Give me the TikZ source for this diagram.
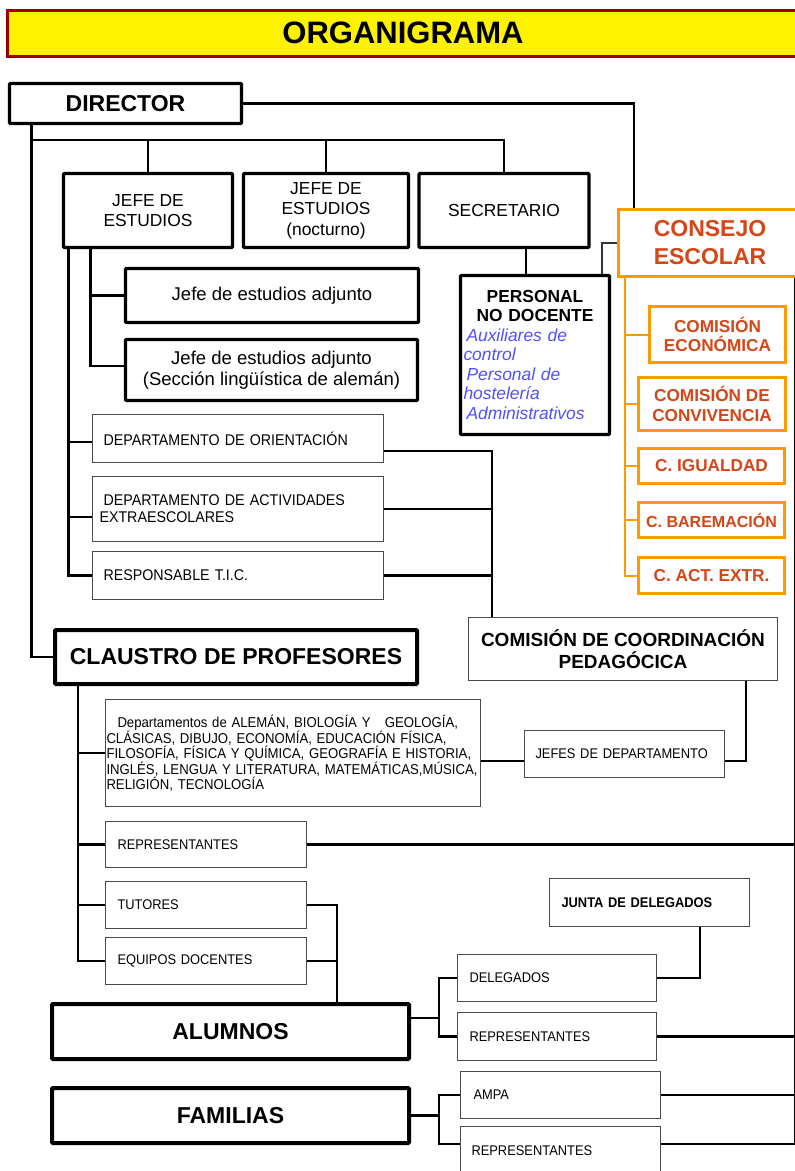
\documentclass[tikz,border=0pt]{standalone}
\usepackage{fontspec}
\setmainfont{Liberation Sans}
\newfontfamily\narrowfont[FakeStretch=0.92,WordSpace=0.85]{Liberation Sans}
\usetikzlibrary{calc}
\definecolor{titlered}{HTML}{990000}
\definecolor{orgorange}{HTML}{FF9900}
\definecolor{orgtext}{HTML}{D64516}
\definecolor{pblue}{HTML}{5050FF}
\definecolor{thingray}{HTML}{4A4A4A}
\newcommand\fsz[2]{\fontsize{#1}{#2}\selectfont}
\begin{document}
\begin{tikzpicture}[x=1pt,y=-1pt,
  thick box/.style={draw=black, line width=3.2pt, fill=white, inner sep=0pt, align=center, rounded corners=1pt},
  heavy box/.style={thick box, line width=4pt},
  thin box/.style={draw=thingray, line width=1.3pt, fill=white, inner ysep=0pt, align=left, font=\narrowfont\fsz{14}{16}},
  orange box/.style={draw=orgorange, line width=3.5pt, fill=white, inner sep=0pt, align=center, text=orgtext, font=\bfseries\fsz{17.2}{19.5}},
  conn/.style={draw=black, line width=2.2pt},
  oconn/.style={draw=orgorange, line width=2pt},
]
\path[use as bounding box] (0,0) rectangle (795,1171);
\clip (0,0) rectangle (795,1171);

% title
\node[draw=titlered, line width=3pt, fill=yellow, minimum width=792pt, minimum height=46pt, inner sep=0pt, font=\bfseries\fsz{31}{31}] (title) at (403,33) {ORGANIGRAMA};

% direction
\node[thick box, minimum width=232pt, minimum height=40pt, font=\bfseries\fsz{23}{25}] (director) at (125.5,103.5) {DIRECTOR};
\node[thick box, minimum width=169pt, minimum height=74pt, font=\fsz{17.4}{19.5}] (jefe) at (148,210.5) {JEFE DE\\ESTUDIOS};
\node[thick box, minimum width=165pt, minimum height=74pt, font=\fsz{17.4}{20.5}] (jefen) at (326,210.5) {JEFE DE\\ESTUDIOS\\(nocturno)};
\node[thick box, minimum width=170pt, minimum height=74pt, font=\fsz{17.4}{19.5}] (secr) at (504,210.5) {SECRETARIO};
\node[thick box, minimum width=293pt, minimum height=54pt, font=\fsz{18.5}{21.5}] (adj1) at (272,295.5) {Jefe de estudios adjunto};
\node[thick box, minimum width=292pt, minimum height=61pt, font=\fsz{18.5}{21.5}] (adj2) at (271.5,370) {Jefe de estudios adjunto\\(Sección lingüística de alemán)};
\node[thick box, minimum width=149pt, minimum height=159pt, inner xsep=3pt, text width=143pt, align=left, font=\fsz{17.4}{19.5}] (pnd) at (535,355)
  {{\centering\bfseries PERSONAL\\NO DOCENTE\par}{\color{pblue}\itshape\hspace*{3pt}Auxiliares de\\control\\\hspace*{3pt}Personal de\\hostelería\\\hspace*{3pt}Administrativos\par}};

% consejo escolar
\node[orange box, minimum width=183pt, minimum height=67pt, font=\bfseries\fsz{23}{28}] (consejo) at (710,243) {CONSEJO\\ESCOLAR};
\node[orange box, minimum width=136pt, minimum height=56pt] (ce) at (717.5,334.5) {COMISIÓN\\ECONÓMICA};
\node[orange box, minimum width=147pt, minimum height=53pt] (cc) at (712,404) {COMISIÓN DE\\CONVIVENCIA};
\node[orange box, minimum width=146pt, minimum height=35pt] (ci) at (711.5,466) {C. IGUALDAD};
\node[orange box, minimum width=146pt, minimum height=35pt, font=\bfseries\fsz{16}{19.5}] (cb) at (711.5,520) {C. BAREMACIÓN};
\node[orange box, minimum width=146pt, minimum height=36pt] (ca) at (711.5,575.5) {C. ACT. EXTR.};

% departamentos
\node[thin box, inner xsep=11pt, text width=269pt, minimum height=48pt, font=\narrowfont\fsz{15.5}{17}] (dor) at (238,438.5) {DEPARTAMENTO DE ORIENTACIÓN};
\node[thin box, inner xsep=7pt, text width=277pt, minimum height=65pt, font=\narrowfont\fsz{15.5}{17}] (dae) at (238,509) {\hspace*{4pt}DEPARTAMENTO DE ACTIVIDADES\\EXTRAESCOLARES};
\node[thin box, inner xsep=11pt, text width=269pt, minimum height=48pt, font=\narrowfont\fsz{15.5}{17}] (tic) at (238,575.5) {RESPONSABLE T.I.C.};

\node[thin box, minimum width=309pt, minimum height=63pt, align=center, font=\bfseries\fsz{19}{22}] (ccp) at (623,649) {COMISIÓN DE COORDINACIÓN\\PEDAGÓCICA};

% claustro
\node[heavy box, minimum width=362pt, minimum height=54pt, font=\bfseries\fsz{23}{25}] (claustro) at (236,657) {CLAUSTRO DE PROFESORES};
\node[thin box, inner xsep=1pt, text width=373pt, minimum height=107pt, font=\narrowfont\fsz{14.3}{15.3}] (deps) at (293,753)
  {\hspace*{11pt}Departamentos de ALEMÁN, BIOLOGÍA Y\ \ \ GEOLOGÍA,\\CLÁSICAS, DIBUJO, ECONOMÍA, EDUCACIÓN FÍSICA,\\FILOSOFÍA, FÍSICA Y QUÍMICA, GEOGRAFÍA E HISTORIA,\\INGLÉS, LENGUA Y LITERATURA, MATEMÁTICAS,MÚSICA,\\RELIGIÓN, TECNOLOGÍA};
\node[thin box, inner xsep=11pt, text width=178pt, minimum height=47pt] (jefes) at (624.5,754) {JEFES DE DEPARTAMENTO};
\node[thin box, inner xsep=12pt, text width=177pt, minimum height=46pt] (rep1) at (206,844.5) {REPRESENTANTES};
\node[thin box, inner xsep=12pt, text width=177pt, minimum height=47pt] (tut) at (206,905) {TUTORES};
\node[thin box, inner xsep=12pt, text width=177pt, minimum height=47pt] (eq) at (206,961) {EQUIPOS DOCENTES};

% alumnos
\node[thin box, inner xsep=12pt, text width=176pt, minimum height=48pt, font=\narrowfont\bfseries\fsz{14}{16}] (junta) at (649.5,902.5) {JUNTA DE DELEGADOS};
\node[thin box, inner xsep=12pt, text width=175pt, minimum height=47pt] (deleg) at (557,978) {DELEGADOS};
\node[thin box, inner xsep=12pt, text width=175pt, minimum height=48pt] (rep2) at (557,1036.5) {REPRESENTANTES};
\node[heavy box, minimum width=357pt, minimum height=55pt, font=\bfseries\fsz{23}{25}] (alumnos) at (230.5,1031.5) {ALUMNOS};

% familias
\node[heavy box, minimum width=357pt, minimum height=55pt, font=\bfseries\fsz{23}{25}] (familias) at (230.5,1115.5) {FAMILIAS};
\node[thin box, inner xsep=13pt, text width=174pt, minimum height=47pt] (ampa) at (560.5,1095) {AMPA};
\node[thin box, inner xsep=11pt, text width=178pt, minimum height=48pt] (rep3) at (560.5,1150.5) {REPRESENTANTES};

% ---------- connectors ----------
\coordinate (bus) at (33,140);
\draw[conn] ([xshift=23.5pt]director.south west) |- (claustro.west);
\draw[conn] (bus) -| (secr.north);
\draw[conn] (bus -| jefe.north) -- (jefe.north);
\draw[conn] (bus -| jefen.north) -- (jefen.north);
\draw[conn] (director.east) -| ([xshift=-76pt]consejo.north);

\path ([xshift=-9pt]pnd.north) coordinate (pn1);
\draw[conn] (pn1) -- (pn1 |- secr.south);
\draw[line width=1.4pt, draw=black!80] ([xshift=67pt]pnd.north) |- (consejo.west);

\path ([xshift=8.5pt]consejo.south west) coordinate (otr);
\draw[oconn] (otr) |- (ca.west);
\draw[oconn] (otr) |- (cb.west);
\draw[oconn] (otr) |- (ci.west);
\draw[oconn] (otr) |- (cc.west);
\draw[oconn] (otr) |- (ce.west);

\path ([xshift=-8.5pt]consejo.south east) coordinate (rbt);
\draw[conn] (rbt) |- ([yshift=6.5pt]rep3.east);
\draw[conn] (rep1.east) -- (rep1.east -| rbt);
\draw[conn] (rep2.east) -- (rep2.east -| rbt);
\draw[conn] (ampa.east) -- (ampa.east -| rbt);

\path ([xshift=6.5pt]jefe.south west) coordinate (jt1);
\path ([xshift=28.5pt]jefe.south west) coordinate (jt2);
\draw[conn] (jt1) |- (tic.west);
\draw[conn] (jt1) |- ([yshift=-3.5pt]dor.west);
\draw[conn] (jt1) |- ([yshift=-8pt]dae.west);
\draw[conn] (jt2) |- ([yshift=4pt]adj2.west);
\draw[conn] (jt2) |- (adj1.west);

\path ([xshift=24.5pt]ccp.north west) coordinate (cb1);
\draw[conn] ([yshift=-12.5pt]dor.east) -| (cb1);
\draw[conn] (dae.east) -| (cb1);
\draw[conn] (tic.east) -| (cb1);

\path ([xshift=25pt]claustro.south west) coordinate (ct);
\draw[conn] (ct) |- (eq.west);
\draw[conn] (ct) |- (tut.west);
\draw[conn] (ct) |- (rep1.west);
\draw[conn] (ct) |- (deps.west);

\path ([yshift=-8pt]deps.east) coordinate (dj);
\draw[conn] (dj) -- (dj -| jefes.west);
\draw[conn] ([xshift=-32.5pt]ccp.south east) |- (dj -| jefes.east);

\path ([xshift=287pt]alumnos.north west) coordinate (at);
\draw[conn] (tut.east) -| (at);
\draw[conn] (eq.east) -| (at);

\draw[conn] ([xshift=-50.5pt]junta.south east) |- (deleg.east);
\draw[conn] (deleg.west) -- ++(-18,0) |- (rep2.west);
\draw[conn] ([yshift=13.5pt]alumnos.east) -| ([xshift=-18pt]deleg.west);

\draw[conn] (ampa.west) -- ++(-21,0) |- ([yshift=6.5pt]rep3.west);
\draw[conn] (familias.east) -| ([xshift=-21pt]ampa.west);
\end{tikzpicture}
\end{document}
